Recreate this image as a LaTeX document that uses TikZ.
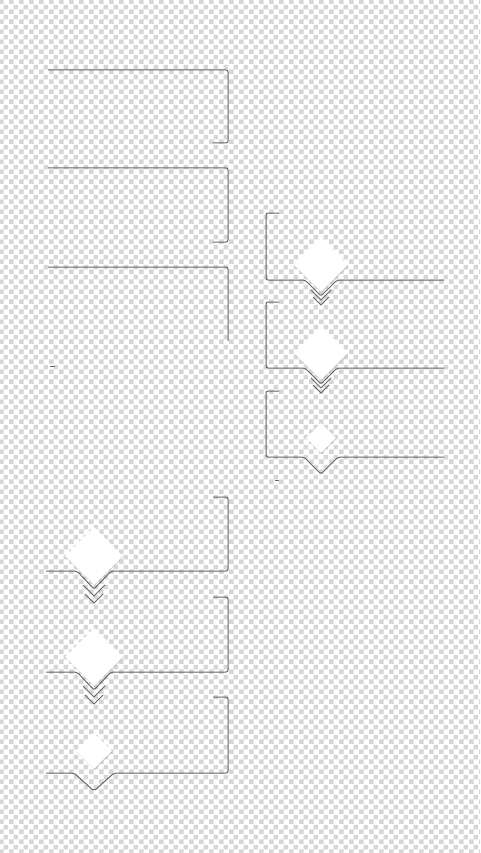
\documentclass[tikz,border=0pt]{standalone}
\usepackage{tikz}
\usetikzlibrary{calc, shapes.geometric, shadows, patterns}

\pgfdeclarepatternformonly{checks}{\pgfpointorigin}{\pgfqpoint{10pt}{10pt}}{\pgfqpoint{10pt}{10pt}}{
    \pgfpathrectangle{\pgfpointorigin}{\pgfqpoint{5pt}{5pt}}
    \pgfpathrectangle{\pgfqpoint{5pt}{5pt}}{\pgfqpoint{5pt}{5pt}}
    \pgfusepath{fill}}

\begin{document}
\begin{tikzpicture}[x=1pt, y=-1pt]
    \tikzstyle{frame} = [draw=black!60, line width=1pt, rounded corners=2pt]
    \tikzstyle{chevron} = [draw=black!60, line width=0.9pt]
    \tikzstyle{gem} = [diamond, aspect=1, inner sep=0pt, fill=white, drop shadow={shadow xshift=0.5pt, shadow yshift=-1pt, opacity=0.3}]

    % transparent background
    \useasboundingbox (0,0) rectangle (480,853);
    \fill[white] (0,0) rectangle (480,853);
    \fill[pattern=checks, pattern color=black!16] (0,0) rectangle (480,853);

    % top left brackets
    \foreach \t/\b in {70/143, 168/242}
        \draw[frame] (48,\t) -- (228,\t) -- (228,\b) -- (213,\b);
    \draw[frame] (48,267) -- (228,267) -- (228,341);
    \draw[frame] (50,366) -- (55,366);

    % right brackets
    \foreach \t/\b in {213/280, 302/368} {
        \draw[frame] (279,\t) -- (266,\t) -- (266,\b) -- (305,\b) -- (321,\b+16) -- (337,\b) -- (444,\b);
        \draw[chevron] (311,\b+10) -- (321,\b+20) -- (331,\b+10);
        \draw[chevron] (313,\b+17) -- (321,\b+25) -- (329,\b+17);
    }
    \draw[frame] (279,391) -- (266,391) -- (266,457) -- (304,457) -- (321,474) -- (338,457) -- (444,457);
    \draw[frame] (275,480) -- (279,480);

    \node[gem, minimum size=54pt] (gemA) at (321,265) {};
    \node[gem, minimum size=54pt] (gemB) at (321,353) {};
    \node[gem, minimum size=30pt] (gemC) at (321,438) {};

    % bottom left brackets
    \foreach \t/\b in {497/571, 597/672} {
        \draw[frame] (213,\t) -- (228,\t) -- (228,\b) -- (111,\b) -- (94,\b+18) -- (77,\b) -- (46,\b);
        \draw[chevron] (83,\b+14) -- (94,\b+25) -- (105,\b+14);
        \draw[chevron] (85,\b+23) -- (94,\b+32) -- (103,\b+23);
    }
    \draw[frame] (213,697) -- (228,697) -- (228,773) -- (114,773) -- (94,791) -- (74,773) -- (46,773);

    \node[gem, minimum size=58pt] (gemD) at (94,556) {};
    \node[gem, minimum size=58pt] (gemE) at (94,657) {};
    \node[gem, minimum size=36pt] (gemF) at (94,751) {};
\end{tikzpicture}
\end{document}
